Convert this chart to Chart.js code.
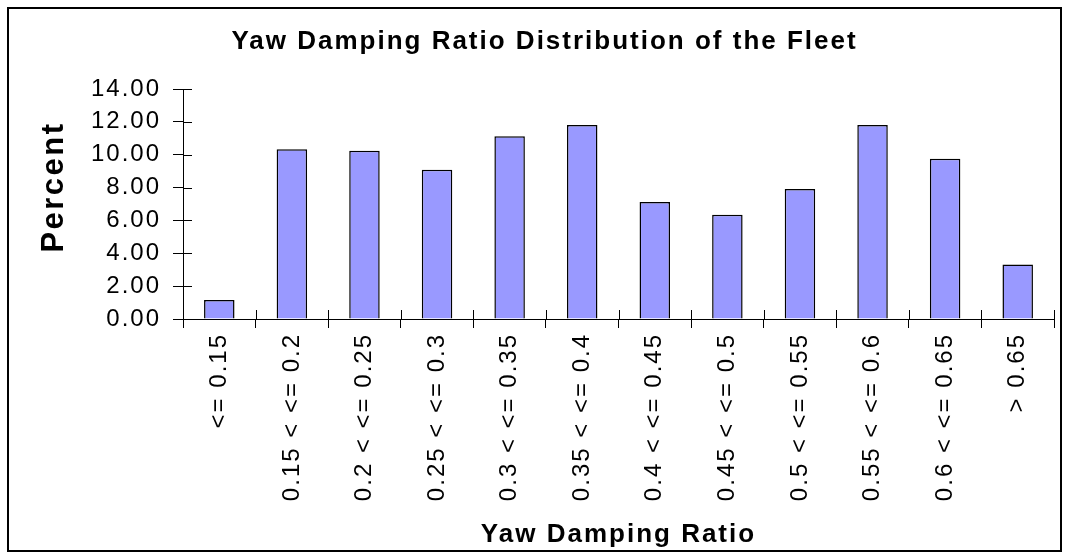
<!DOCTYPE html>
<html>
<head>
<meta charset="utf-8">
<title>Yaw Damping Ratio Distribution of the Fleet</title>
<script src="https://cdn.jsdelivr.net/npm/chart.js@4.4.0/dist/chart.umd.min.js"></script>
<style>
  html, body { margin: 0; padding: 0; background: #fff; }
  #wrap { width: 1069px; height: 559px; }
</style>
</head>
<body>
<div id="wrap"><canvas id="chart" width="1069" height="559"></canvas></div>
<script>
// --- data
const categories = [
  "<= 0.15", "0.15 < <= 0.2", "0.2 < <= 0.25", "0.25 < <= 0.3",
  "0.3 < <= 0.35", "0.35 < <= 0.4", "0.4 < <= 0.45", "0.45 < <= 0.5",
  "0.5 < <= 0.55", "0.55 < <= 0.6", "0.6 < <= 0.65", "> 0.65"
];
const percentValues = [1.16, 10.33, 10.24, 9.09, 11.12, 11.81, 7.12, 6.34, 7.91, 11.81, 9.76, 3.32];
const yTicks = [0, 2, 4, 6, 8, 10, 12, 14];

const FONT = "'Liberation Sans', Arial, sans-serif";
const SPACING = "2px";

// old excel-ish wide text
const spacingPlugin = {
  id: "spacing",
  beforeUpdate(chart) { chart.ctx.letterSpacing = SPACING; },
  beforeDraw(chart) { chart.ctx.letterSpacing = SPACING; }
};

// white page + frame round the whole chart
const framePlugin = {
  id: "frame",
  beforeDraw(chart) {
    const ctx = chart.ctx;
    ctx.save();
    ctx.fillStyle = "#fff";
    ctx.fillRect(0, 0, chart.width, chart.height);
    ctx.strokeStyle = "#000";
    ctx.lineWidth = 2;
    ctx.strokeRect(8, 8, 1053, 543);
    ctx.restore();
  }
};

// tick marks cross the axes (inner half) + the y axis title
const crossTicks = {
  id: "crossTicks",
  afterDraw(chart) {
    const ctx = chart.ctx;
    const x = chart.scales.x, y = chart.scales.y;
    ctx.save();
    ctx.strokeStyle = "#000";
    ctx.lineWidth = 1;
    ctx.beginPath();
    y.ticks.forEach((t, i) => {
      const py = Math.round(y.getPixelForTick(i)) + 0.5;
      ctx.moveTo(y.right, py);
      ctx.lineTo(y.right + 9, py);
    });
    for (let i = 0; i <= categories.length; i++) {
      const px = Math.round(x.getPixelForValue(i - 0.5)) + 0.5;
      ctx.moveTo(px, x.top);
      ctx.lineTo(px, x.top - 9);
    }
    ctx.stroke();

    // "Percent" sits a bit above the axis middle in the original
    ctx.translate(54, 187);
    ctx.rotate(-Math.PI / 2);
    ctx.letterSpacing = "2.5px";
    ctx.font = "bold 31px " + FONT;
    ctx.fillStyle = "#000";
    ctx.textAlign = "center";
    ctx.textBaseline = "middle";
    ctx.fillText("Percent", 0, 0);
    ctx.restore();
  }
};

const ctx = document.getElementById("chart").getContext("2d");
new Chart(ctx, {
  type: "bar",
  data: {
    labels: categories,
    datasets: [{
      label: "Percent",
      data: percentValues,
      backgroundColor: "#9999ff",
      borderColor: "#000",
      borderWidth: 1.5,
      barPercentage: 0.42,
      categoryPercentage: 1
    }]
  },
  options: {
    responsive: false,
    animation: false,
    layout: { padding: { left: 35, right: 15, top: 0, bottom: 0 } },
    plugins: {
      legend: { display: false },
      tooltip: { enabled: false },
      title: {
        display: true,
        text: "Yaw Damping Ratio Distribution of the Fleet",
        color: "#000",
        font: { family: FONT, size: 26, weight: "bold", lineHeight: 1.2 },
        padding: { top: 26.4, bottom: 31.4 }
      }
    },
    scales: {
      x: {
        offset: true,
        grid: {
          offset: true,
          drawOnChartArea: false,
          drawTicks: true,
          tickLength: 9,
          color: "#000"
        },
        border: { display: true, color: "#000", width: 1 },
        ticks: {
          color: "#000",
          font: { family: FONT, size: 24 },
          minRotation: 90,
          maxRotation: 90,
          autoSkip: false,
          padding: 5
        },
        title: {
          display: true,
          text: "Yaw Damping Ratio",
          color: "#000",
          font: { family: FONT, size: 26, weight: "bold", lineHeight: 1.2 },
          padding: { top: 0, bottom: 8.4 }
        },
        afterFit(scale) { scale.height = 240; }
      },
      y: {
        min: 0,
        max: 14,
        afterBuildTicks(scale) { scale.ticks = yTicks.map(v => ({ value: v })); },
        grid: {
          drawOnChartArea: false,
          drawTicks: true,
          tickLength: 10,
          color: "#000"
        },
        border: { display: true, color: "#000", width: 1 },
        ticks: {
          color: "#000",
          font: { family: FONT, size: 24 },
          padding: 12,
          callback: (v) => Number(v).toFixed(2)
        },
        afterFit(scale) { scale.width = 148; }
      }
    }
  },
  plugins: [spacingPlugin, framePlugin, crossTicks]
});
</script>
</body>
</html>
